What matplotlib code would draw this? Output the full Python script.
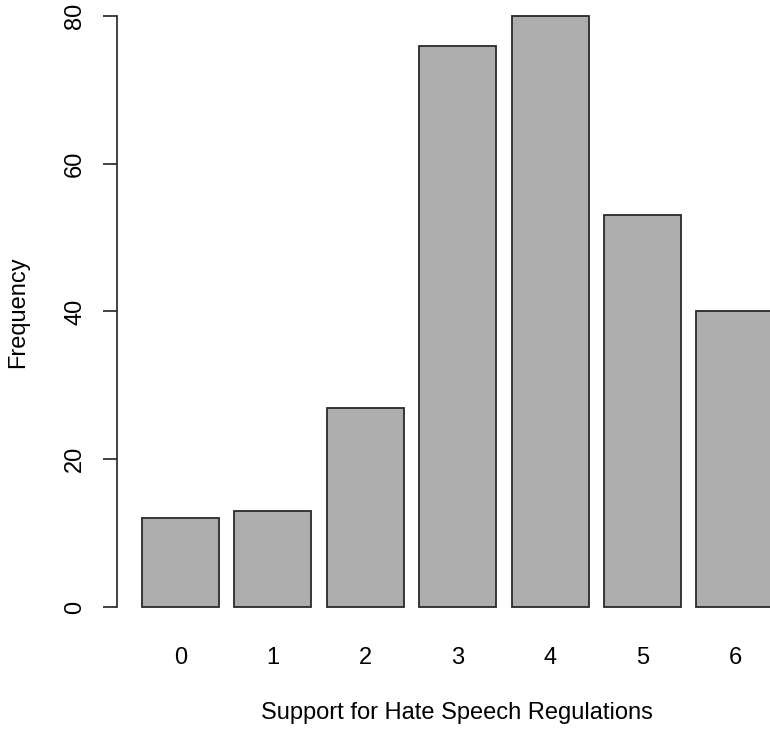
import matplotlib
matplotlib.use("Agg")
import matplotlib.pyplot as plt

categories = ["0", "1", "2", "3", "4", "5", "6"]
frequencies = [12, 13, 27, 76, 80, 53, 40]
y_ticks = [0, 20, 40, 60, 80]

plt.rcParams['font.family'] = ['Liberation Sans', 'DejaVu Sans']

fig = plt.figure(figsize=(7.7, 7.3), dpi=100)
ax = fig.add_axes([0.1516, 0.1362, 0.8857, 0.8742])

width = 1.0
space = 0.2
centers = [space + width / 2 + i * (width + space) for i in range(len(categories))]
ax.bar(centers, frequencies, width=width, color="#ADADAD", edgecolor="#2a2a2a", linewidth=1.3)

left = space
right = centers[-1] + width / 2
ext = (right - left) * 0.04
ax.set_xlim(left - ext, right + ext)
ax.set_ylim(-0.04 * 80, 80 * 1.04)

for s in ["top", "right", "bottom"]:
    ax.spines[s].set_visible(False)
ax.spines["left"].set_bounds(0, 80)
ax.spines["left"].set_linewidth(1.2)
ax.spines["left"].set_color("#222222")

ax.set_yticks(y_ticks)
ax.set_yticklabels([str(v) for v in y_ticks], rotation=90, va="center", fontsize=17)
ax.tick_params(axis="y", length=10, width=1.2, pad=12, color="#222222")

ax.set_xticks(centers)
ax.set_xticklabels(categories, fontsize=17)
ax.tick_params(axis="x", length=0, pad=12)

fig.text(0.5935, (730 - 713) / 730, "Support for Hate Speech Regulations",
         fontsize=17, ha="center", va="center")
fig.text(18 / 770, (730 - 312) / 730, "Frequency", fontsize=17,
         rotation=90, ha="center", va="center")

fig.savefig("out.png", dpi=100)
